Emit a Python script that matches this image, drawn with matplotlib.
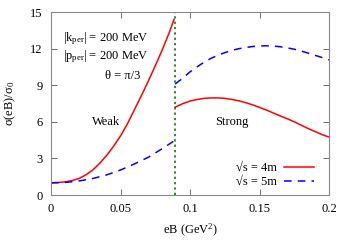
import numpy as np
import matplotlib.pyplot as plt

plt.rcParams['font.family'] = ['Liberation Serif', 'DejaVu Serif']
plt.rcParams['mathtext.fontset'] = 'custom'
plt.rcParams['mathtext.rm'] = 'Liberation Serif'
plt.rcParams['mathtext.it'] = 'Liberation Serif:italic'

# DATA ----------------------------------------------------------------------

eb_crit = 0.0893

eb_weak = [0.0, 0.005, 0.01, 0.015, 0.02, 0.025, 0.03, 0.035, 0.04, 0.045,
           0.05, 0.055, 0.06, 0.065, 0.07, 0.075, 0.08, 0.085, 0.0885]
red_weak = [1.0, 1.02, 1.08, 1.18, 1.35, 1.65, 2.05, 2.6, 3.25, 4.0,
            4.85, 5.85, 7.0, 8.15, 9.35, 10.6, 11.9, 13.3, 14.4]

eb_weak_b = [0.0, 0.01, 0.02, 0.03, 0.04, 0.05, 0.06, 0.07, 0.08, 0.088]
blue_weak = [1.0, 1.03, 1.15, 1.35, 1.65, 2.05, 2.55, 3.1, 3.8, 4.4]

eb_strong = [0.0893, 0.095, 0.1, 0.105, 0.11, 0.115, 0.12, 0.125, 0.13, 0.135,
             0.14, 0.145, 0.15, 0.155, 0.16, 0.165, 0.17, 0.175, 0.18, 0.185,
             0.19, 0.195, 0.2]
red_strong = [7.2, 7.5, 7.7, 7.83, 7.92, 7.96, 7.96, 7.92, 7.84, 7.72,
              7.57, 7.39, 7.18, 6.96, 6.72, 6.48, 6.25, 6.0, 5.72, 5.45,
              5.2, 4.95, 4.75]
blue_strong = [9.1, 9.6, 10.1, 10.5, 10.88, 11.2, 11.45, 11.67, 11.85, 11.99,
               12.09, 12.17, 12.22, 12.23, 12.21, 12.15, 12.06, 11.95, 11.8, 11.63,
               11.45, 11.27, 11.08]

xticks = [0, 0.05, 0.1, 0.15, 0.2]
xtick_labels = ['0', '0.05', '0.1', '0.15', '0.2']
yticks = [0, 3, 6, 9, 12, 15]

# PLOT ----------------------------------------------------------------------

fig = plt.figure(figsize=(3.5, 2.45), dpi=100)
ax = fig.add_axes([0.146, 0.204, 0.794, 0.747])

dash = (0, (5, 4))
ax.plot(eb_weak, red_weak, color='red', lw=1.1, label='√s = 4m')
ax.plot(eb_weak_b, blue_weak, color='blue', lw=1.1, ls=dash, label='√s = 5m')
ax.plot(eb_strong, red_strong, color='red', lw=1.1)
ax.plot(eb_strong, blue_strong, color='blue', lw=1.1, ls=dash)
ax.axvline(eb_crit, color='#006400', lw=1.1, ls=(0, (1.5, 2)))

ax.set_xlim(0, 0.2)
ax.set_ylim(0, 15)
ax.set_xticks(xticks)
ax.set_xticklabels(xtick_labels)
ax.set_yticks(yticks)
ax.tick_params(direction='in', top=True, right=True, length=4, width=0.6,
               labelsize=9, color='#555555', pad=6)
for s in ax.spines.values():
    s.set_color('#888888')
    s.set_linewidth(0.8)

ax.set_xlabel(r'eB (GeV$^2$)', fontsize=9, labelpad=5)
ax.set_ylabel(r'σ(eB)/σ$_0$', fontsize=9, labelpad=9)

ax.text(0.0085, 12.85, r'|k$_{\rm per}$| = 200 MeV', fontsize=9, va='center')
ax.text(0.0085, 11.35, r'|p$_{\rm per}$| = 200 MeV', fontsize=9, va='center')
ax.text(0.064, 9.75, 'θ = π/3', fontsize=9, ha='right', va='center')
ax.text(0.0395, 5.95, 'Weak', fontsize=9, ha='center', va='center')
ax.text(0.130, 5.95, 'Strong', fontsize=9, ha='center', va='center')

ax.legend(loc='lower right', fontsize=9, frameon=False, markerfirst=False,
          handlelength=2.4, borderaxespad=0.0, labelspacing=0.15,
          handletextpad=0.6, bbox_to_anchor=(0.965, 0.01))

fig.savefig('out.png', dpi=100)
